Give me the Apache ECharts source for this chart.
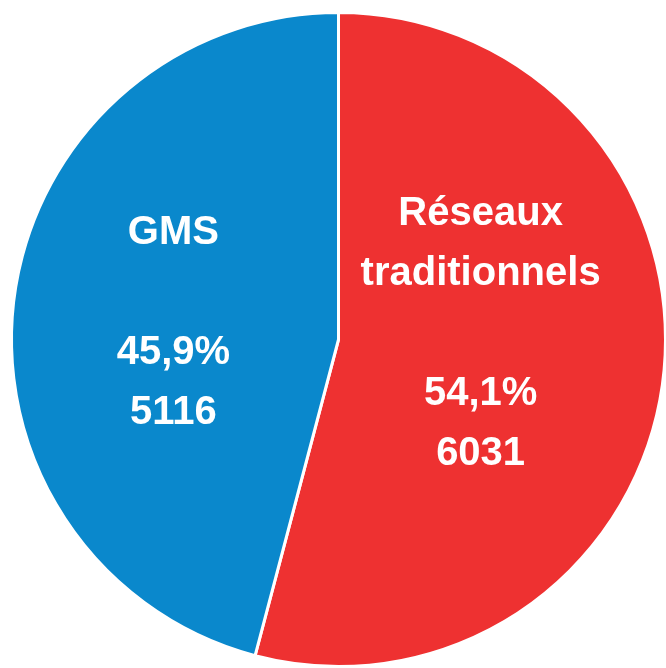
<!DOCTYPE html>
<html>
<head>
<meta charset="utf-8">
<script src="https://cdn.jsdelivr.net/npm/echarts@6/dist/echarts.min.js"></script>
<style>
html,body{margin:0;padding:0;background:#fff;}
#main{width:666px;height:668px;}
</style>
</head>
<body>
<div id="main"></div>
<script>
var names = ['R\u00e9seaux\ntraditionnels', 'GMS'];
var values = [6031, 5116];
var pcts = ['54,1%', '45,9%'];
var colors = ['#ee3131', '#0a88cc'];

var myChart = echarts.init(document.getElementById('main'));
var data = [];
for(var i=0;i<names.length;i++){
	data.push({
		name:names[i],
		value:values[i],
		itemStyle:{color:colors[i]},
		label:{offset: i==0 ? [-23,-27] : [0,5]}
	});
}
var option = {
	animation:false,
	series:[{
		type:'pie',
		center:[338.5,339.5],
		radius:[0,327],
		startAngle:90,
		clockwise:true,
		data:data,
		itemStyle:{borderColor:'#fff',borderWidth:3},
		label:{
			show:true,
			position:'inside',
			color:'#fff',
			fontFamily:'Liberation Sans, Arial, sans-serif',
			fontWeight:'bold',
			fontSize:40,
			lineHeight:60,
			formatter:function(p){
				var i = p.dataIndex;
				return names[i]+'\n\n'+pcts[i]+'\n'+values[i];
			}
		},
		labelLine:{show:false}
	}]
};
myChart.setOption(option);
</script>
</body>
</html>
